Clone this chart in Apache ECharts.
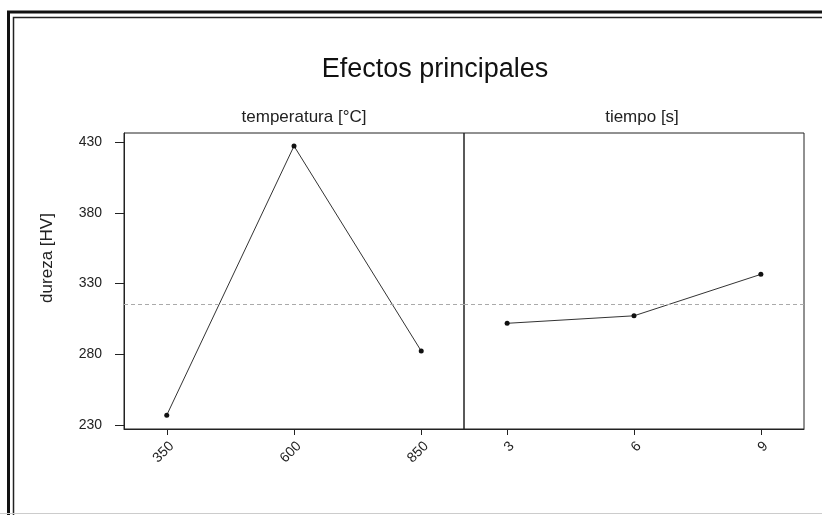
<!DOCTYPE html>
<html>
<head>
<meta charset="utf-8">
<script src="https://cdn.jsdelivr.net/npm/echarts@6/dist/echarts.min.js"></script>
<style>
  html, body { margin: 0; padding: 0; background: #fff; }
  #chart { width: 822px; height: 515px; }
</style>
</head>
<body>
<div id="chart"></div>
<script>
// Main-effects data: mean hardness at each factor level
const tempLevels = [350, 600, 850];
const tempHardness = [237.0, 427.2, 282.3];
const timeLevels = [3, 6, 9];
const timeHardness = [301.9, 307.2, 336.5];
const yTicks = [230, 280, 330, 380, 430];
const panelTitles = ['temperatura [°C]', 'tiempo [s]'];

// Grand mean drawn as the dashed reference line
const allValues = tempHardness.concat(timeHardness);
const grandMean = allValues.reduce((a, b) => a + b, 0) / allValues.length;

const FONT = '"Liberation Sans", Arial, sans-serif';
const INK = '#222';

const chart = echarts.init(document.getElementById('chart'));

function xAxisFor(grid, levels, min, max) {
  return {
    type: 'value', gridIndex: grid, min: min, max: max,
    axisLine: { show: true, lineStyle: { color: INK, width: 1 } },
    splitLine: { show: false },
    axisTick: { show: true, length: 6, customValues: levels, lineStyle: { color: INK } },
    axisLabel: {
      customValues: levels, rotate: 45, margin: 10, verticalAlign: 'top',
      fontFamily: FONT, fontSize: 14, color: INK
    }
  };
}

function meanLine() {
  return {
    silent: true, symbol: 'none', label: { show: false },
    lineStyle: { type: [4, 3], color: '#aaa', width: 1 },
    data: [{ yAxis: grandMean }]
  };
}

const option = {
  animation: false,
  backgroundColor: '#fff',
  grid: [
    { left: 124, top: 133, width: 340, height: 296, show: true, borderColor: INK, borderWidth: 1 },
    { left: 464, top: 133, width: 340, height: 296, show: true, borderColor: INK, borderWidth: 1 }
  ],
  xAxis: [
    xAxisFor(0, tempLevels, 266, 934),
    xAxisFor(1, timeLevels, 1.98, 10.02)
  ],
  yAxis: [
    {
      type: 'value', gridIndex: 0, min: 227.2, max: 436.4,
      axisLine: { show: true, lineStyle: { color: INK } },
      splitLine: { show: false },
      axisTick: { show: true, length: 9, customValues: yTicks, lineStyle: { color: INK } },
      axisLabel: { customValues: yTicks, margin: 22, fontFamily: FONT, fontSize: 14, color: INK }
    },
    {
      type: 'value', gridIndex: 1, min: 227.2, max: 436.4, show: false,
      splitLine: { show: false }
    }
  ],
  series: [
    {
      type: 'line', xAxisIndex: 0, yAxisIndex: 0,
      data: tempLevels.map((t, i) => [t, tempHardness[i]]),
      symbol: 'circle', symbolSize: 5,
      itemStyle: { color: '#111' }, lineStyle: { color: '#333', width: 1 },
      markLine: meanLine()
    },
    {
      type: 'line', xAxisIndex: 1, yAxisIndex: 1,
      data: timeLevels.map((t, i) => [t, timeHardness[i]]),
      symbol: 'circle', symbolSize: 5,
      itemStyle: { color: '#111' }, lineStyle: { color: '#333', width: 1 },
      markLine: meanLine()
    }
  ],
  graphic: [
    // double frame around the figure
    { type: 'rect', shape: { x: 8.5, y: 12, width: 900, height: 600 },
      style: { fill: 'none', stroke: '#111', lineWidth: 3 }, silent: true },
    { type: 'rect', shape: { x: 13.5, y: 17.5, width: 900, height: 600 },
      style: { fill: 'none', stroke: '#222', lineWidth: 1.5 }, silent: true },
    { type: 'line', shape: { x1: 0, y1: 513.5, x2: 822, y2: 513.5 },
      style: { stroke: '#ccc', lineWidth: 1 }, silent: true },
    // title
    { type: 'text', x: 435, y: 70,
      style: { text: 'Efectos principales', font: '27px ' + FONT, fill: '#111',
               textAlign: 'center', textVerticalAlign: 'middle' } },
    // panel headers
    { type: 'text', x: 304, y: 117,
      style: { text: panelTitles[0], font: '17px ' + FONT, fill: INK,
               textAlign: 'center', textVerticalAlign: 'middle' } },
    { type: 'text', x: 642, y: 117,
      style: { text: panelTitles[1], font: '17px ' + FONT, fill: INK,
               textAlign: 'center', textVerticalAlign: 'middle' } },
    // y-axis name
    { type: 'text', x: 47, y: 258, rotation: Math.PI / 2,
      style: { text: 'dureza [HV]', font: '17px ' + FONT, fill: INK,
               textAlign: 'center', textVerticalAlign: 'middle' } }
  ]
};

chart.setOption(option);
</script>
</body>
</html>
